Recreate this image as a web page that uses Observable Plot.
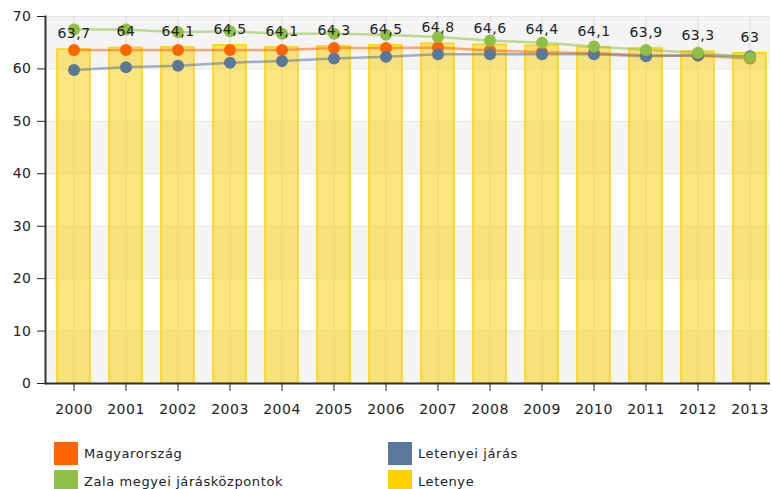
<!DOCTYPE html>
<html>
<head>
<meta charset="utf-8">
<script src="https://cdn.jsdelivr.net/npm/d3@7"></script>
<script src="https://cdn.jsdelivr.net/npm/@observablehq/plot@0.6"></script>
<style>
  html, body { margin: 0; padding: 0; background: #fff; }
  body { width: 772px; height: 489px; position: relative; overflow: hidden; font-family: "DejaVu Sans", sans-serif; }
  #chart svg text { letter-spacing: 0.5px; }
  .lg { position: absolute; display: flex; align-items: center; font-size: 13px; letter-spacing: 0.6px; color: #222; }
  .sw { width: 24px; height: 23px; margin-right: 6px; }
</style>
</head>
<body>
<div id="chart"></div>
<div id="legend"></div>
<script>
const years = ["2000","2001","2002","2003","2004","2005","2006","2007","2008","2009","2010","2011","2012","2013"];
const letenye = [63.7, 64, 64.1, 64.5, 64.1, 64.3, 64.5, 64.8, 64.6, 64.4, 64.1, 63.9, 63.3, 63];
const magyarorszag = [63.6, 63.6, 63.6, 63.6, 63.6, 64.0, 64.0, 64.1, 63.5, 63.2, 63.0, 62.6, 62.5, 62.0];
const letenyeiJaras = [59.8, 60.3, 60.6, 61.2, 61.5, 62.0, 62.3, 62.8, 62.8, 62.8, 62.8, 62.4, 62.6, 62.4];
const zala = [67.5, 67.5, 67.0, 67.2, 66.7, 66.7, 66.5, 66.1, 65.4, 65.0, 64.3, 63.6, 63.1, 62.2];
const yTicks = [0, 10, 20, 30, 40, 50, 60, 70];
const shadedBands = [[0, 10], [20, 30], [40, 50], [60, 70]];

const seriesNames = ["Magyarország", "Letenyei járás", "Zala megyei járásközpontok", "Letenye"];
const colors = {"Magyarország": "#ff6600", "Letenyei járás": "#5b7799", "Zala megyei járásközpontok": "#8fbf46", "Letenye": "#ffd200"};

const bars = years.map((y, i) => ({year: y, value: letenye[i]}));
const lineSeries = [
  ["Magyarország", magyarorszag],
  ["Letenyei járás", letenyeiJaras],
  ["Zala megyei járásközpontok", zala]
].map(([name, vals]) => vals.map((v, i) => ({series: name, year: years[i], value: v})));
const bandRows = shadedBands.map(([a, b]) => ({y1: a, y2: b}));

const marks = [
  Plot.rectY(bandRows, {y1: "y1", y2: "y2", fill: "#f4f4f4"}),
  Plot.ruleY(yTicks, {stroke: "#e4e4e4", strokeWidth: 1}),
  Plot.gridX({stroke: "#c8c8c8", strokeOpacity: 0.6}),
  Plot.barY(bars, {x: "year", y: "value", fill: "#f8d424", fillOpacity: 0.58, stroke: "#ffd200", strokeWidth: 1.5})
];
for (const s of lineSeries) {
  const c = colors[s[0].series];
  marks.push(Plot.line(s, {x: "year", y: "value", stroke: c, strokeWidth: 2.5, strokeOpacity: 0.55}));
}
for (const s of lineSeries) {
  const c = colors[s[0].series];
  marks.push(Plot.dot(s, {x: "year", y: "value", fill: c, r: 6, stroke: null}));
}
marks.push(
  Plot.text(bars, {x: "year", y: "value", text: d => String(d.value).replace(".", ","), dy: -16, lineAnchor: "middle", fill: "#222", fontSize: 14}),
  Plot.ruleY([0], {stroke: "#333", strokeWidth: 2}),
  Plot.frame({anchor: "left", stroke: "#333", strokeWidth: 2}),
  Plot.axisY({ticks: yTicks, tickSize: 8, tickPadding: 6, fontSize: 14, color: "#222"}),
  Plot.axisX({tickSize: 8, tickPadding: 13, fontSize: 14, color: "#222"})
);

const chart = Plot.plot({
  width: 772,
  height: 430,
  marginTop: 16,
  marginBottom: 47,
  marginLeft: 45,
  marginRight: 2,
  style: {fontFamily: "DejaVu Sans", fontSize: "14px", background: "#fff", color: "#222"},
  x: {type: "band", domain: years, range: [45, 778], paddingInner: 0.37, paddingOuter: 0.185, label: null},
  y: {domain: [0, 70], label: null},
  marks
});
document.getElementById("chart").appendChild(chart);

const legendPos = [
  {name: "Magyarország", x: 54, y: 442},
  {name: "Letenyei járás", x: 388, y: 442},
  {name: "Zala megyei járásközpontok", x: 54, y: 470},
  {name: "Letenye", x: 388, y: 470}
];
const lg = document.getElementById("legend");
for (const p of legendPos) {
  const d = document.createElement("div");
  d.className = "lg";
  d.style.left = p.x + "px";
  d.style.top = p.y + "px";
  d.innerHTML = `<div class="sw" style="background:${colors[p.name]}"></div><span>${p.name}</span>`;
  lg.appendChild(d);
}
</script>
</body>
</html>
